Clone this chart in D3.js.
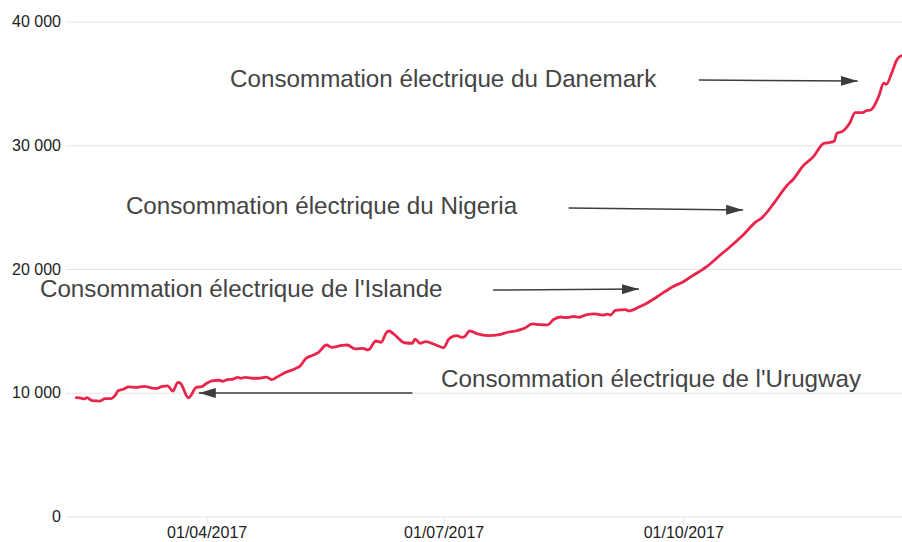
<!DOCTYPE html>
<html>
<head>
<meta charset="utf-8">
<script src="https://cdn.jsdelivr.net/npm/d3@7"></script>
<style>
  body { margin: 0; background: #fff; }
  svg { display: block; font-family: "Liberation Sans", Arial, sans-serif; }
</style>
</head>
<body>
<div id="vis-holder"></div>
<script>
// consommation
const dates = [
  "2017-02-10","2017-02-12","2017-02-13","2017-02-14","2017-02-16","2017-02-19","2017-02-21","2017-02-23",
  "2017-02-25","2017-02-26","2017-02-28","2017-03-02","2017-03-05","2017-03-08","2017-03-11","2017-03-13",
  "2017-03-15","2017-03-17","2017-03-19","2017-03-21","2017-03-22","2017-03-25","2017-03-26","2017-03-28",
  "2017-03-30","2017-04-01","2017-04-03","2017-04-06","2017-04-07","2017-04-09","2017-04-11","2017-04-13",
  "2017-04-14","2017-04-16","2017-04-19","2017-04-21","2017-04-24","2017-04-26","2017-04-28","2017-05-01",
  "2017-05-05","2017-05-07","2017-05-09","2017-05-12","2017-05-14","2017-05-17","2017-05-19","2017-05-23",
  "2017-05-25","2017-05-28","2017-05-31","2017-06-02","2017-06-05","2017-06-07","2017-06-09","2017-06-10",
  "2017-06-12","2017-06-16","2017-06-19","2017-06-20","2017-06-22","2017-06-24","2017-06-29","2017-07-01",
  "2017-07-03","2017-07-06","2017-07-08","2017-07-09","2017-07-11","2017-07-14","2017-07-18","2017-07-23",
  "2017-07-25","2017-07-29","2017-08-01","2017-08-04","2017-08-07","2017-08-10","2017-08-12","2017-08-15",
  "2017-08-17","2017-08-20","2017-08-22","2017-08-25","2017-08-28","2017-08-31","2017-09-02","2017-09-03",
  "2017-09-05","2017-09-09","2017-09-10","2017-09-14","2017-09-17","2017-09-20","2017-09-22","2017-09-27",
  "2017-10-01","2017-10-04","2017-10-10","2017-10-16","2017-10-19","2017-10-24","2017-10-29","2017-10-31",
  "2017-11-05","2017-11-10","2017-11-12","2017-11-16","2017-11-20","2017-11-24","2017-11-26","2017-11-28",
  "2017-11-29","2017-12-01","2017-12-04","2017-12-06","2017-12-09","2017-12-10","2017-12-12","2017-12-15",
  "2017-12-17","2017-12-18","2017-12-20","2017-12-22","2017-12-23","2017-12-24"
];
const values = [
  9600, 9550, 9500, 9600, 9360, 9330, 9520, 9520,
  9820, 10170, 10280, 10470, 10440, 10520, 10380, 10360,
  10520, 10550, 10140, 10840, 10760, 9580, 9790, 10440,
  10490, 10760, 10950, 11010, 10930, 11060, 11090, 11250,
  11170, 11250, 11170, 11170, 11270, 11060, 11270, 11620,
  11940, 12190, 12750, 13050, 13270, 13860, 13670, 13830,
  13860, 13540, 13590, 13460, 14180, 14080, 14850, 14990,
  14720, 14040, 14000, 14340, 14000, 14130, 13780, 13640,
  14340, 14610, 14480, 14530, 14990, 14750, 14610, 14720,
  14850, 15010, 15210, 15560, 15500, 15480, 15880, 16120,
  16080, 16160, 16100, 16320, 16380, 16280, 16360, 16280,
  16650, 16710, 16610, 16930, 17230, 17620, 17900, 18570,
  18970, 19380, 20190, 21270, 21800, 22750, 23820, 24100,
  25370, 26790, 27190, 28320, 29080, 30160, 30210, 30340,
  30970, 31100, 31820, 32630, 32630, 32770, 32850, 33920,
  35010, 34930, 35810, 36890, 37150, 37250
];

const yTicks = [0, 10000, 20000, 30000, 40000];
const xTicks = ["2017-04-01", "2017-07-01", "2017-10-01"];
const xDomain = ["2017-02-06", "2017-12-24"];

// annotations (texte + fleche, en coordonnees de donnees)
const noteTexts = [
  "Consommation électrique du Danemark",
  "Consommation électrique du Nigeria",
  "Consommation électrique de l'Islande",
  "Consommation électrique de l'Urugway"
];
const noteAt = [["2017-04-10", 34700], ["2017-03-01", 24440], ["2017-01-27", 17740], ["2017-06-30", 10470]];
const arrowFrom = [["2017-10-07", 35270], ["2017-08-18", 24930], ["2017-07-20", 18300], ["2017-06-19", 9980]];
const arrowTo = [["2017-12-07", 35190], ["2017-10-24", 24770], ["2017-09-14", 18380], ["2017-03-29", 9980]];

const parse = d3.utcParse("%Y-%m-%d");
const data = dates.map((d, i) => ({ date: parse(d), value: values[i] }));

const width = 902;
const height = 542;
const margin = { top: 21.5, right: 0, bottom: 25.5, left: 66 };

const svg = d3.select("#vis-holder")
  .append("svg")
  .attr("width", width)
  .attr("height", height);

const x = d3.scaleUtc()
  .domain(xDomain.map(parse))
  .range([margin.left, width - margin.right]);

const y = d3.scaleLinear()
  .domain([0, 40000])
  .range([height - margin.bottom, margin.top]);

const fr = d3.formatLocale({ decimal: ",", thousands: " ", grouping: [3], currency: ["", " €"] });

// axe y + grille
svg.append("g")
  .attr("transform", `translate(${margin.left},0)`)
  .call(d3.axisLeft(y)
    .tickValues(yTicks)
    .tickSize(-(width - margin.left - margin.right))
    .tickPadding(5)
    .tickFormat(fr.format(",d")))
  .call(g => g.select(".domain").remove())
  .call(g => g.selectAll(".tick line").attr("stroke", "#e3e3e3"))
  .call(g => g.selectAll(".tick text")
    .attr("font-size", "16px")
    .attr("font-family", "Liberation Sans, Arial, sans-serif")
    .attr("fill", "#222"));

// axe x
svg.append("g")
  .attr("transform", `translate(0,${height - margin.bottom})`)
  .call(d3.axisBottom(x)
    .tickValues(xTicks.map(parse))
    .tickSize(8)
    .tickPadding(2)
    .tickFormat(d3.utcFormat("%d/%m/%Y")))
  .call(g => g.select(".domain").remove())
  .call(g => g.selectAll(".tick line").attr("stroke", "#e3e3e3"))
  .call(g => g.selectAll(".tick text")
    .attr("font-size", "16px")
    .attr("font-family", "Liberation Sans, Arial, sans-serif")
    .attr("fill", "#222"));

// courbe
const line = d3.line()
  .x(d => x(d.date))
  .y(d => y(d.value))
  .curve(d3.curveMonotoneX);

svg.append("path")
  .datum(data)
  .attr("fill", "none")
  .attr("stroke", "#e8254b")
  .attr("stroke-width", 2.8)
  .attr("stroke-linejoin", "round")
  .attr("stroke-linecap", "round")
  .attr("d", line);

// fleches
svg.append("defs").append("marker")
  .attr("id", "head")
  .attr("viewBox", "0 0 17 10")
  .attr("refX", 17)
  .attr("refY", 5)
  .attr("markerWidth", 17)
  .attr("markerHeight", 10)
  .attr("markerUnits", "userSpaceOnUse")
  .attr("orient", "auto")
  .append("path")
  .attr("d", "M0,0L17,5L0,10Z")
  .attr("fill", "#3d3d3d");

svg.selectAll(".arrow")
  .data(arrowFrom)
  .enter()
  .append("line")
  .attr("class", "arrow")
  .attr("x1", d => x(parse(d[0])))
  .attr("y1", d => y(d[1]))
  .attr("x2", (d, i) => x(parse(arrowTo[i][0])))
  .attr("y2", (d, i) => y(arrowTo[i][1]))
  .attr("stroke", "#3d3d3d")
  .attr("stroke-width", 1.5)
  .attr("marker-end", "url(#head)");

svg.selectAll(".note")
  .data(noteTexts)
  .enter()
  .append("text")
  .attr("class", "note")
  .attr("x", (d, i) => x(parse(noteAt[i][0])))
  .attr("y", (d, i) => y(noteAt[i][1]))
  .attr("font-size", "24.2px")
  .attr("fill", "#444")
  .text(d => d);
</script>
</body>
</html>
